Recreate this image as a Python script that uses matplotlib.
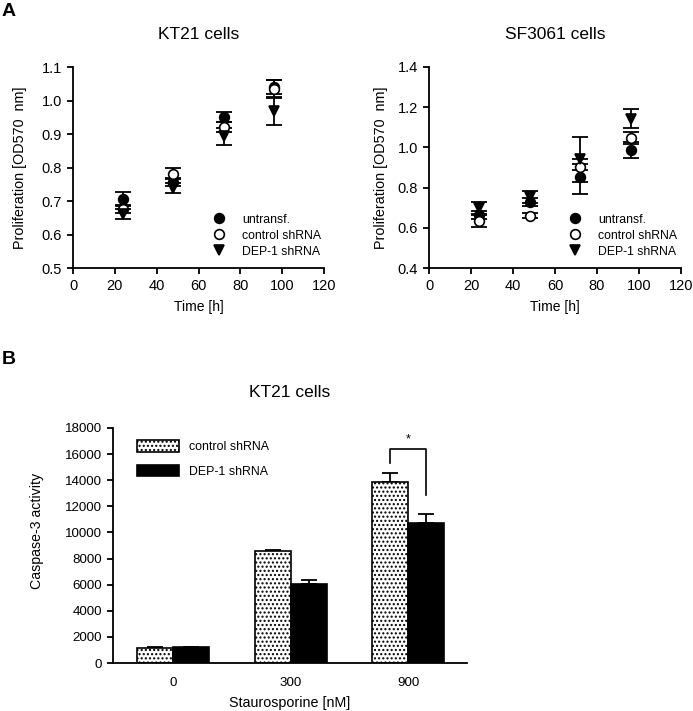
import matplotlib
matplotlib.use("Agg")
import matplotlib.pyplot as plt
from matplotlib.lines import Line2D
import numpy as np

plt.rcParams['font.family'] = ['Liberation Sans', 'DejaVu Sans']
plt.rcParams['hatch.linewidth'] = 1.0

# --- Datos panel A (proliferacion) ---
tiempo = [24, 48, 72, 96]
series_a = ["untransf.", "control shRNA", "DEP-1 shRNA"]

kt21_media = {
    "untransf.": [0.706, 0.757, 0.950, 1.040],
    "control shRNA": [0.675, 0.782, 0.920, 1.035],
    "DEP-1 shRNA": [0.660, 0.740, 0.893, 0.968],
}
kt21_err = {
    "untransf.": [0.020, 0.012, 0.015, 0.020],
    "control shRNA": [0.012, 0.017, 0.015, 0.025],
    "DEP-1 shRNA": [0.015, 0.015, 0.025, 0.040],
}

sf3061_media = {
    "untransf.": [0.665, 0.730, 0.854, 0.987],
    "control shRNA": [0.635, 0.660, 0.904, 1.049],
    "DEP-1 shRNA": [0.700, 0.755, 0.940, 1.142],
}
sf3061_err = {
    "untransf.": [0.020, 0.020, 0.086, 0.040],
    "control shRNA": [0.030, 0.013, 0.015, 0.030],
    "DEP-1 shRNA": [0.030, 0.030, 0.110, 0.047],
}

# --- Datos panel B (caspasa-3) ---
dosis = ["0", "300", "900"]
control_vals = [1180, 8600, 13900]
control_err = [60, 60, 650]
dep1_vals = [1200, 6050, 10700]
dep1_err = [60, 300, 750]

# corchete de significancia sobre el grupo 900 nM
sig_grupo = 2
sig_izq, sig_der, sig_top = 15350, 12900, 16400
sig_texto = "*"

estilos = {
    "untransf.": dict(marker="o", mfc="black", mec="black"),
    "control shRNA": dict(marker="o", mfc="white", mec="black"),
    "DEP-1 shRNA": dict(marker="v", mfc="black", mec="black"),
}

fig = plt.figure(figsize=(6.93, 7.11), dpi=100)
W, H = 693, 711


def ejes(x0, x1, ytop, ybot):
    return fig.add_axes([x0 / W, (H - ybot) / H, (x1 - x0) / W, (ybot - ytop) / H])


def estilo_ejes(ax, tam):
    for s in ["top", "right"]:
        ax.spines[s].set_visible(False)
    for s in ["left", "bottom"]:
        ax.spines[s].set_linewidth(1.3)
    ax.tick_params(direction="out", length=4.5, width=1.3, labelsize=tam, pad=3.5)


def panel_prolif(ax, medias, errores, ylim, yticks, titulo, ylab_x):
    for nombre in series_a:
        ax.errorbar(tiempo, medias[nombre], yerr=errores[nombre], fmt="none",
                    ecolor="black", elinewidth=1.3, capsize=6, capthick=1.3, zorder=2)
    for nombre in series_a:
        ax.plot(tiempo, medias[nombre], linestyle="none", markersize=7,
                markeredgewidth=1.2, zorder=3, **estilos[nombre])
    ax.set_xlim(0, 120)
    ax.set_ylim(*ylim)
    ax.set_xticks([0, 20, 40, 60, 80, 100, 120])
    ax.set_yticks(yticks)
    ax.set_yticklabels([f"{v:.1f}" for v in yticks])
    estilo_ejes(ax, 10.5)
    ax.set_xlabel("Time [h]", fontsize=10)
    ax.xaxis.set_label_coords(0.5, -0.16)
    ax.set_ylabel("Proliferation [OD570  nm]", fontsize=10.4)
    ax.yaxis.set_label_coords(ylab_x, 0.5)
    ax.set_title(titulo, fontsize=12.5, pad=20)
    handles = [Line2D([], [], linestyle="none", markersize=7, markeredgewidth=1.2,
                      **estilos[n]) for n in series_a]
    ax.legend(handles, series_a, loc="upper left", bbox_to_anchor=(0.556, 0.27),
              frameon=False, fontsize=8.8, handlelength=1.0, handletextpad=1.4,
              labelspacing=0.32, borderpad=0, borderaxespad=0)


ax1 = ejes(73, 324, 67, 268)
panel_prolif(ax1, kt21_media, kt21_err, (0.5, 1.1), np.arange(0.5, 1.11, 0.1),
             "KT21 cells", -0.184)

ax2 = ejes(429, 681, 67, 268)
panel_prolif(ax2, sf3061_media, sf3061_err, (0.4, 1.4), np.arange(0.4, 1.41, 0.2),
             "SF3061 cells", -0.163)

# --- Panel B ---
ax3 = ejes(113, 467, 428, 663)
x = np.arange(len(dosis))
ancho = 0.306
ax3.bar(x - ancho / 2, control_vals, ancho, color="white", edgecolor="black",
        hatch="....", linewidth=1.2, label="control shRNA", zorder=2)
ax3.bar(x + ancho / 2, dep1_vals, ancho, color="black", edgecolor="black",
        linewidth=1.2, label="DEP-1 shRNA", zorder=2)
ax3.errorbar(x - ancho / 2, control_vals, yerr=[np.zeros(3), control_err], fmt="none",
             ecolor="black", elinewidth=1.3, capsize=6, capthick=1.3, zorder=1)
ax3.errorbar(x + ancho / 2, dep1_vals, yerr=[np.zeros(3), dep1_err], fmt="none",
             ecolor="black", elinewidth=1.3, capsize=6, capthick=1.3, zorder=1)

bx1 = x[sig_grupo] - ancho / 2
bx2 = x[sig_grupo] + ancho / 2
ax3.plot([bx1, bx1, bx2, bx2], [sig_izq, sig_top, sig_top, sig_der], color="black", lw=1.2)
ax3.text((bx1 + bx2) / 2, sig_top + 300, sig_texto, ha="center", va="bottom", fontsize=9)

ax3.set_xlim(-0.51, 2.5)
ax3.set_ylim(0, 18000)
ax3.set_yticks(np.arange(0, 18001, 2000))
ax3.set_xticks(x)
ax3.set_xticklabels(dosis)
estilo_ejes(ax3, 9.6)
ax3.tick_params(axis="x", length=0, pad=10)
ax3.set_xlabel("Staurosporine [nM]", fontsize=10.3)
ax3.xaxis.set_label_coords(0.5, -0.14)
ax3.set_ylabel("Caspase-3 activity", fontsize=10.2)
ax3.yaxis.set_label_coords(-0.195, 0.56)
ax3.set_title("KT21 cells", fontsize=12.5, pad=22)
ax3.legend(loc="upper left", bbox_to_anchor=(0.068, 0.947), frameon=False,
           fontsize=8.9, handlelength=3.4, handleheight=1.07, handletextpad=0.8,
           labelspacing=0.9, borderpad=0, borderaxespad=0)

fig.text(2 / W, 1 - 12 / H, "A", fontsize=14, fontweight="bold", va="center", ha="left")
fig.text(2 / W, 1 - 360 / H, "B", fontsize=14, fontweight="bold", va="center", ha="left")

fig.savefig("out.png", dpi=100)
